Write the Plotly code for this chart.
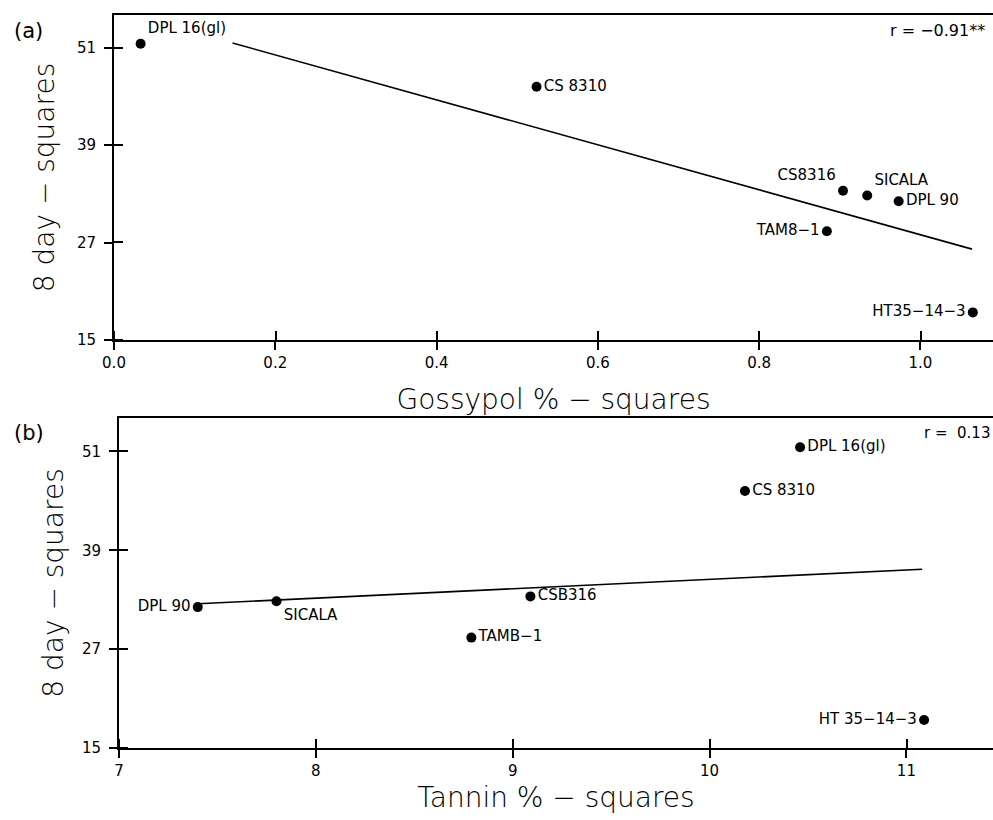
import plotly.graph_objects as go

# ---- data ----
cultivars_a = ["DPL 16(gl)", "CS 8310", "CS8316", "SICALA", "DPL 90", "TAM8−1", "HT35−14−3"]
cultivars_b = ["DPL 16(gl)", "CS 8310", "CSB316", "SICALA", "DPL 90", "TAMB−1", "HT 35−14−3"]
squares_8day = [51.5, 46.2, 33.4, 32.8, 32.1, 28.4, 18.4]
gossypol_pct = [0.033, 0.524, 0.904, 0.934, 0.973, 0.884, 1.065]
tannin_pct = [10.46, 10.18, 9.09, 7.80, 7.40, 8.79, 11.09]

gossypol_fit_x = [0.147, 1.064]
gossypol_fit_y = [51.6, 26.2]
tannin_fit_x = [7.40, 11.08]
tannin_fit_y = [32.5, 36.7]

r_gossypol = "r = −0.91**"
r_tannin = "r =  0.13"

y_ticks = [15, 27, 39, 51]
x_ticks_a = [0.0, 0.2, 0.4, 0.6, 0.8, 1.0]
x_ticks_b = [7, 8, 9, 10, 11]

# ---- styles ----
pos_a = ["top right", "middle right", "top left", "top right", "middle right", "middle left", "middle left"]
pos_b = ["middle right", "middle right", "middle right", "bottom right", "middle left", "middle right", "middle left"]

LABEL_FONT = dict(family="DejaVu Sans", size=15, color="black")
TICK_FONT = dict(family="DejaVu Sans", size=15, color="black")
TITLE_FONT = dict(family="DejaVu Sans", size=28, color="black", weight=200)

fig = go.Figure()

fig.add_trace(go.Scatter(x=gossypol_fit_x, y=gossypol_fit_y, mode="lines",
                         line=dict(color="black", width=1.6), xaxis="x", yaxis="y",
                         showlegend=False, hoverinfo="skip"))
fig.add_trace(go.Scatter(x=gossypol_pct, y=squares_8day, mode="markers+text",
                         text=cultivars_a, textposition=pos_a, textfont=LABEL_FONT,
                         marker=dict(color="black", size=10), xaxis="x", yaxis="y",
                         showlegend=False))
fig.add_trace(go.Scatter(x=tannin_fit_x, y=tannin_fit_y, mode="lines",
                         line=dict(color="black", width=1.6), xaxis="x2", yaxis="y2",
                         showlegend=False, hoverinfo="skip"))
fig.add_trace(go.Scatter(x=tannin_pct, y=squares_8day, mode="markers+text",
                         text=cultivars_b, textposition=pos_b, textfont=LABEL_FONT,
                         marker=dict(color="black", size=10), xaxis="x2", yaxis="y2",
                         showlegend=False))

W = 993
L, T, B = 114, 15, 72
H = 820 - T - B
top_dom = [(748 - 340) / H, 1.0]
bot_dom = [0.0, (748 - 418) / H]
bot_x_dom = [(119 - L) / (W - L), 1.0]


def px_x(p):
    return (p - L) / (W - L)


def px_y(p):
    return (748 - p) / H


x_a_range = [0, 1.09]
x_b_range = [7, 11.44]
y_range = [15, 55.05]

common = dict(showline=True, linecolor="black", linewidth=2, showgrid=False, zeroline=False,
              ticks="outside", ticklen=8, tickwidth=1.5, tickcolor="black",
              tickfont=TICK_FONT, automargin=False)


def inner_ticks(vals, rng):
    # inward half of the "+" shaped tick marks, at the same spacing as the major ticks;
    # nudged by a sub-pixel amount so they are not dropped as duplicates of the major ticks
    eps = (rng[1] - rng[0]) * 0.0004
    return dict(ticks="inside", tickmode="linear", tick0=vals[0] + eps, dtick=vals[1] - vals[0],
                ticklen=9, tickwidth=1.5, tickcolor="black", showgrid=False)


fig.update_layout(
    width=W, height=820,
    margin=dict(l=L, r=0, t=T, b=B),
    paper_bgcolor="white", plot_bgcolor="white",
    xaxis=dict(domain=[0, 1], anchor="y", range=x_a_range, tickvals=x_ticks_a,
               tickformat=".1f", mirror=True, minor=inner_ticks(x_ticks_a, x_a_range),
               title=dict(text="Gossypol % − squares", font=TITLE_FONT, standoff=18), **common),
    yaxis=dict(domain=top_dom, anchor="x", range=y_range, tickvals=y_ticks, ticklabelstandoff=5,
               minor=inner_ticks(y_ticks, y_range),
               title=dict(text="8 day − squares", font=TITLE_FONT, standoff=14), **common),
    xaxis2=dict(domain=bot_x_dom, anchor="y2", range=x_b_range, tickvals=x_ticks_b, mirror=True,
                minor=inner_ticks(x_ticks_b, x_b_range),
                title=dict(text="Tannin % − squares", font=TITLE_FONT, standoff=8), **common),
    yaxis2=dict(domain=bot_dom, anchor="x2", range=y_range, tickvals=y_ticks, ticklabelstandoff=5,
                minor=inner_ticks(y_ticks, y_range),
                title=dict(text="8 day − squares", font=TITLE_FONT, standoff=10), **common),
    annotations=[
        dict(text="(a)", x=px_x(12), y=px_y(31), xref="paper", yref="paper",
             xanchor="left", yanchor="middle", showarrow=False,
             font=dict(family="DejaVu Sans", size=21, color="black")),
        dict(text="(b)", x=px_x(12), y=px_y(433), xref="paper", yref="paper",
             xanchor="left", yanchor="middle", showarrow=False,
             font=dict(family="DejaVu Sans", size=21, color="black")),
        dict(text=r_gossypol, x=1.0, y=1.0, xref="x domain", yref="y domain",
             xanchor="right", yanchor="top", xshift=-6, yshift=-4, showarrow=False,
             font=dict(family="DejaVu Sans", size=16, color="black")),
        dict(text=r_tannin, x=1.0, y=1.0, xref="x2 domain", yref="y2 domain",
             xanchor="right", yanchor="top", xshift=-1, yshift=-4, showarrow=False,
             font=dict(family="DejaVu Sans", size=15, color="black")),
    ],
)

fig.write_html(
    "out.html",
    config={"displayModeBar": False},
    post_script="document.body.style.margin='0';document.body.style.overflow='hidden';",
)
